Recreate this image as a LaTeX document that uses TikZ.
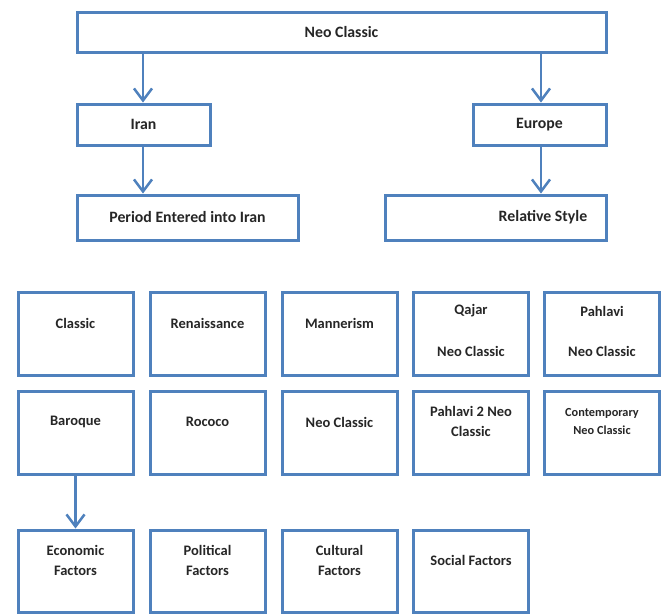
\documentclass[tikz,border=0pt]{standalone}
\usepackage{fontspec}
\setmainfont{Carlito}
\usetikzlibrary{arrows.meta}
\definecolor{boxblue}{HTML}{4F81BD}
\definecolor{txt}{HTML}{262626}
\tikzset{
  box/.style={draw=boxblue, line width=3pt, rectangle, inner sep=0pt, fill=white},
  bigbox/.style={box, minimum height=42pt},
  cell/.style={box, minimum width=115pt, minimum height=83pt},
  lbl/.style={text=txt, font=\bfseries\fontsize{15.8}{18}\selectfont, inner sep=0pt, align=center},
  slbl/.style={text=txt, font=\bfseries\fontsize{14.5}{20}\selectfont, inner sep=0pt, align=center},
  arr/.style={draw=boxblue, line width=2.5pt, -{Straight Barb[length=12pt,width=18pt,line width=2.5pt]}},
}
\begin{document}
\begin{tikzpicture}[x=1pt,y=-1pt]
\useasboundingbox (0,0) rectangle (665,614);
% top level
\node[bigbox, minimum width=529pt, minimum height=40pt] (top) at (341.5,32) {};
\node[lbl] (tTop) at (341.5,32) {Neo Classic};
\node[bigbox, minimum width=133pt, minimum height=41pt] (iran) at (143.5,124.5) {};
\node[lbl] (tIran) at (143.5,124.5) {Iran};
\node[bigbox, minimum width=133pt, minimum height=41pt] (europe) at (539.5,124.5) {};
\node[lbl] (tEurope) at (539.5,124.5) {Europe};
\node[bigbox, minimum width=221pt, minimum height=45pt] (period) at (187.5,217.5) {};
\node[lbl] (tPeriod) at (187.5,217.5) {Period Entered into Iran};
\node[bigbox, minimum width=221pt, minimum height=45pt] (relative) at (495.5,217.5) {};
\node[lbl] (tRelative) at (543,217.5) {Relative Style};
\coordinate (a1) at (143,52);
\coordinate (a2) at (541,52);
\draw[arr] (a1) -- (a1 |- iran.north);
\draw[arr] (a2) -- (a2 |- europe.north);
\draw[arr] (iran.south -| a1) -- (a1 |- period.north);
\draw[arr] (europe.south -| a2) -- (a2 |- relative.north);
% grid row 1
\node[cell] (c11) at (75.5,333.5) {};
\node[cell] (c12) at (207.5,333.5) {};
\node[cell] (c13) at (339.5,333.5) {};
\node[cell] (c14) at (471,333.5) {};
\node[cell] (c15) at (602,333.5) {};
\node[slbl] (t11) at (75.5,323) {Classic};
\node[slbl] (t12) at (207.5,323) {Renaissance};
\node[slbl] (t13) at (339.5,323) {Mannerism};
\node[slbl] (t14a) at (471,311) {Qajar};
\node[slbl] (t14b) at (471,351) {Neo Classic};
\node[slbl] (t15a) at (602,311) {Pahlavi};
\node[slbl] (t15b) at (602,351) {Neo Classic};
% grid row 2
\node[cell] (c21) at (75.5,433) {};
\node[cell] (c22) at (207.5,433) {};
\node[cell] (c23) at (339.5,433) {};
\node[cell] (c24) at (471,433) {};
\node[cell] (c25) at (602,433) {};
\node[slbl] (t21) at (75.5,422) {Baroque};
\node[slbl] (t22) at (207.5,422) {Rococo};
\node[slbl] (t23) at (339.5,422) {Neo Classic};
\node[slbl] (t24) at (471,421) {Pahlavi 2 Neo\\Classic};
\node[text=txt, font=\bfseries\fontsize{12.3}{18}\selectfont, inner sep=0pt, align=center] (t25) at (602,422) {Contemporary\\Neo Classic};
% grid row 3
\node[cell, minimum height=82pt] (c31) at (75.5,571) {};
\node[cell, minimum height=82pt] (c32) at (207.5,571) {};
\node[cell, minimum height=82pt] (c33) at (339.5,571) {};
\node[cell, minimum height=82pt] (c34) at (471,571) {};
\node[slbl] (t31) at (75.5,560) {Economic\\Factors};
\node[slbl] (t32) at (207.5,560) {Political\\Factors};
\node[slbl] (t33) at (339.5,560) {Cultural\\Factors};
\node[slbl] (t34) at (471,560) {Social Factors};
\draw[arr] (c21.south) -- (c31.north);
\end{tikzpicture}
\end{document}
